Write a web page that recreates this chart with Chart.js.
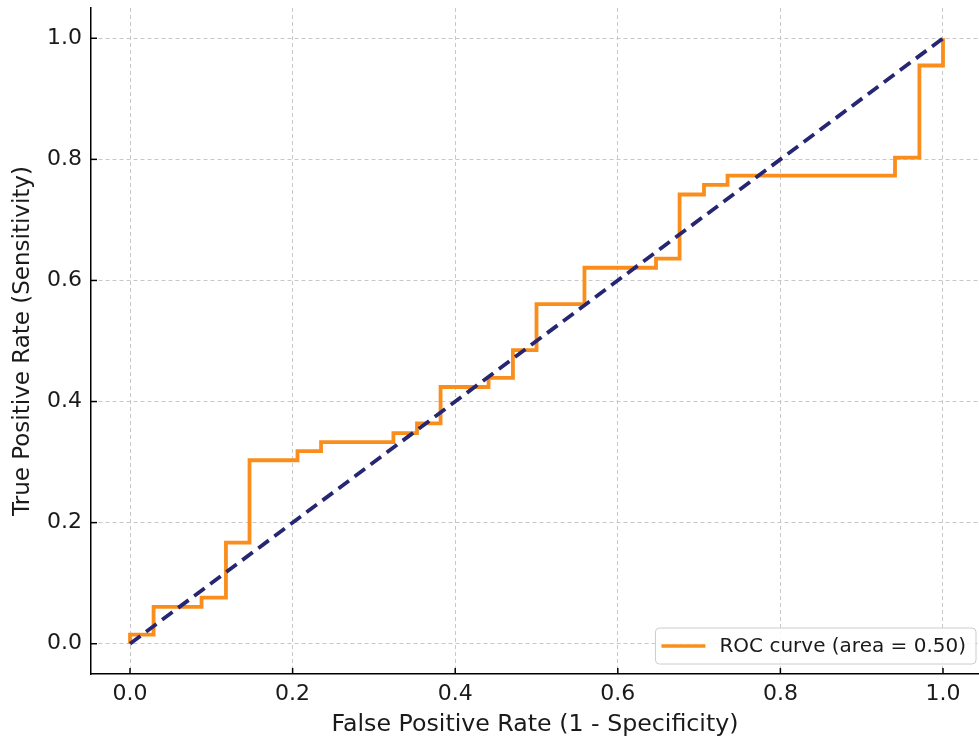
<!DOCTYPE html>
<html>
<head>
<meta charset="utf-8">
<script src="https://cdn.jsdelivr.net/npm/chart.js@4.4.1/dist/chart.umd.min.js"></script>
<style>
  html, body { margin: 0; padding: 0; background: #fff; }
  #wrap { width: 979px; height: 740px; }
</style>
</head>
<body>
<div id="wrap"><canvas id="roc"></canvas></div>
<script>
// ROC curve corner points
const fpr = [0, 0, 0.029, 0.029, 0.088, 0.088, 0.118, 0.118, 0.147, 0.147,
             0.206, 0.206, 0.235, 0.235, 0.324, 0.324, 0.353, 0.353, 0.382, 0.382,
             0.441, 0.441, 0.471, 0.471, 0.5, 0.5, 0.559, 0.559, 0.647, 0.647,
             0.676, 0.676, 0.706, 0.706, 0.735, 0.735, 0.941, 0.941, 0.971, 0.971,
             1, 1];
const tpr = [0, 0.015, 0.015, 0.061, 0.061, 0.076, 0.076, 0.167, 0.167, 0.303,
             0.303, 0.318, 0.318, 0.333, 0.333, 0.348, 0.348, 0.364, 0.364, 0.424,
             0.424, 0.439, 0.439, 0.485, 0.485, 0.561, 0.561, 0.621, 0.621, 0.636,
             0.636, 0.742, 0.742, 0.758, 0.758, 0.773, 0.773, 0.803, 0.803, 0.955,
             0.955, 1];
const chanceX = [0, 1];
const chanceY = [0, 1];
const tickValues = [0, 0.2, 0.4, 0.6, 0.8, 1.0];
const rocLabel = 'ROC curve (area = 0.50)';
const xTitle = 'False Positive Rate (1 - Specificity)';
const yTitle = 'True Positive Rate (Sensitivity)';

const FONT = 'DejaVu Sans';
const TEXT = '#1a1a1a';
const ORANGE = '#fa8e1c';
const NAVY = '#262673';

const rocPoints = fpr.map((x, i) => ({ x: x, y: tpr[i] }));
const chancePoints = chanceX.map((x, i) => ({ x: x, y: chanceY[i] }));

// -------------------- inward tick marks --------------------
const innerTicks = {
    id: 'innerTicks',
    afterDatasetsDraw(chart) {
        const ctx = chart.ctx;
        const xs = chart.scales.x, ys = chart.scales.y;
        const area = chart.chartArea;
        ctx.save();
        ctx.strokeStyle = '#000';
        ctx.lineWidth = 1.5;
        tickValues.forEach(v => {
            const px = xs.getPixelForValue(v);
            ctx.beginPath();
            ctx.moveTo(px, area.bottom);
            ctx.lineTo(px, area.bottom - 6);
            ctx.stroke();
            const py = ys.getPixelForValue(v);
            ctx.beginPath();
            ctx.moveTo(area.left, py);
            ctx.lineTo(area.left + 6, py);
            ctx.stroke();
        });
        ctx.restore();
    }
};

// -------------------- legend box, lower right --------------------
const cornerLegend = {
    id: 'cornerLegend',
    afterDraw(chart) {
        const ctx = chart.ctx;
        const area = chart.chartArea;
        ctx.save();
        ctx.font = '20px "' + FONT + '"';
        const tw = ctx.measureText(rocLabel).width;
        const w = tw + 74, h = 36;
        const x = area.right - 3 - w, y = area.bottom - 10 - h;
        ctx.beginPath();
        ctx.roundRect(x, y, w, h, 4);
        ctx.fillStyle = 'rgba(255,255,255,0.85)';
        ctx.fill();
        ctx.strokeStyle = '#cccccc';
        ctx.lineWidth = 1;
        ctx.stroke();
        ctx.strokeStyle = ORANGE;
        ctx.lineWidth = 3.5;
        ctx.beginPath();
        ctx.moveTo(x + 6, y + h / 2);
        ctx.lineTo(x + 50, y + h / 2);
        ctx.stroke();
        ctx.fillStyle = TEXT;
        ctx.textBaseline = 'middle';
        ctx.fillText(rocLabel, x + 64, y + h / 2 + 1);
        ctx.restore();
    }
};

const grid = {
    color: '#c8c8c8',
    lineWidth: 1,
    drawTicks: false
};

new Chart(document.getElementById('roc'), {
    type: 'scatter',
    data: {
        datasets: [
            {
                label: rocLabel,
                data: rocPoints,
                showLine: true,
                borderColor: ORANGE,
                borderWidth: 3.8,
                pointRadius: 0,
                fill: false,
                order: 2
            },
            {
                label: 'chance',
                data: chancePoints,
                showLine: true,
                borderColor: NAVY,
                borderWidth: 3.8,
                borderDash: [13, 7],
                pointRadius: 0,
                fill: false,
                order: 1
            }
        ]
    },
    options: {
        responsive: true,
        maintainAspectRatio: false,
        animation: false,
        layout: { padding: { top: 8, right: 0, left: 0, bottom: 0 } },
        plugins: {
            legend: { display: false },
            tooltip: { enabled: false }
        },
        scales: {
            x: {
                type: 'linear',
                min: -0.048,
                max: 1.0443,
                afterBuildTicks: s => { s.ticks = tickValues.map(v => ({ value: v })); },
                afterFit: s => { s.height = 66; s.paddingLeft = 0; s.paddingRight = 0; },
                grid: grid,
                border: { display: true, color: '#000', width: 1.5, dash: [4, 3] },
                ticks: {
                    color: TEXT,
                    padding: 7,
                    font: { family: FONT, size: 22 },
                    callback: v => v.toFixed(1)
                },
                title: {
                    display: true,
                    text: xTitle,
                    color: TEXT,
                    font: { family: FONT, size: 23.7, lineHeight: 1 },
                    padding: { top: 0, bottom: 3 }
                }
            },
            y: {
                type: 'linear',
                min: -0.05,
                max: 1.05,
                afterBuildTicks: s => { s.ticks = tickValues.map(v => ({ value: v })); },
                afterFit: s => { s.width = 91; s.paddingTop = 0; s.paddingBottom = 0; },
                grid: grid,
                border: { display: true, color: '#000', width: 1.5, dash: [4, 3] },
                ticks: {
                    color: TEXT,
                    padding: 9,
                    font: { family: FONT, size: 22 },
                    callback: v => v.toFixed(1)
                },
                title: {
                    display: true,
                    text: yTitle,
                    color: TEXT,
                    font: { family: FONT, size: 23, lineHeight: 1 },
                    padding: { top: 12, bottom: 0 }
                }
            }
        }
    },
    plugins: [innerTicks, cornerLegend]
});
</script>
</body>
</html>
